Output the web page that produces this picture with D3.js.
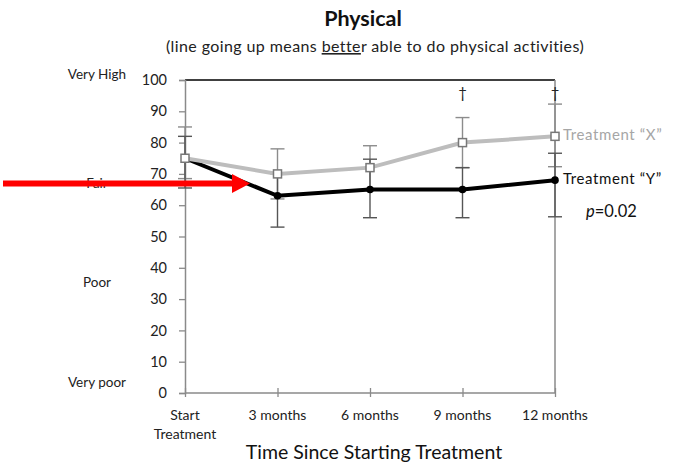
<!DOCTYPE html>
<html>
<head>
<meta charset="utf-8">
<script src="https://cdn.jsdelivr.net/npm/d3@7"></script>
<style>
  html, body { margin: 0; padding: 0; background: #fff; }
  svg { display: block; font-family: Lato, "Open Sans", sans-serif; }
</style>
</head>
<body>
<svg id="chart" width="692" height="469"></svg>
<script>
// Time points and their (two-line) labels
const timepoints = ["Start", "3 months", "6 months", "9 months", "12 months"];
const timeLabels = [["Start", "Treatment"], ["3 months"], ["6 months"], ["9 months"], ["12 months"]];

// Mean physical scores per treatment
const treatmentX = [75, 70, 72, 80, 82];
const treatmentY = [75, 63, 65, 65, 68];

// Error bar bounds (low / high) per treatment
const treatmentXLow  = [68.5, 62, 65, 72, 72.3];
const treatmentXHigh = [85, 78, 79, 88, 92.3];
const treatmentYLow  = [65.5, 53, 56, 56, 56.3];
const treatmentYHigh = [82, 70, 74.7, 72, 76.6];

// Y axis ticks and the descriptive bands beside them
const yTicks = [0, 10, 20, 30, 40, 50, 60, 70, 80, 90, 100];
const bandLabels = ["Very High", "Fair", "Poor", "Very poor"];
const bandValues = [101.5, 66.5, 35, 3];

// Time points flagged as significant
const daggerPoints = ["9 months", "12 months"];

const svg = d3.select("#chart");
const plotLeft = 185, plotRight = 555, plotTop = 80, plotBottom = 393;

const x = d3.scalePoint().domain(timepoints).range([plotLeft, plotRight]);
const y = d3.scaleLinear().domain([0, 100]).range([plotBottom, plotTop]);

// Plot frame
svg.append("line").attr("x1", plotLeft).attr("x2", plotRight).attr("y1", plotTop).attr("y2", plotTop)
  .attr("stroke", "#000").attr("stroke-width", 1.5);
svg.append("line").attr("x1", plotRight).attr("x2", plotRight).attr("y1", plotTop).attr("y2", plotBottom)
  .attr("stroke", "#8a8a8a").attr("stroke-width", 1.5);

// Y axis
const yAxis = svg.append("g").attr("transform", `translate(${plotLeft},0)`)
  .call(d3.axisLeft(y).tickValues(yTicks).tickSize(6).tickPadding(12));
yAxis.select(".domain").attr("stroke", "#8a8a8a").attr("stroke-width", 1.5);
yAxis.selectAll(".tick line").attr("stroke", "#8a8a8a").attr("stroke-width", 1.3);
yAxis.selectAll(".tick text").attr("font-size", 14.5).attr("fill", "#222")
  .attr("font-family", "Lato, sans-serif");

// X axis
const xAxis = svg.append("g").attr("transform", `translate(0,${plotBottom})`)
  .call(d3.axisBottom(x).tickSize(6).tickFormat(""));
xAxis.select(".domain").attr("stroke", "#8a8a8a").attr("stroke-width", 1.5)
  .attr("d", `M${plotLeft},0H${plotRight}`);
xAxis.selectAll(".tick line").attr("stroke", "#8a8a8a").attr("stroke-width", 1.3)
  .attr("y1", -5).attr("y2", 4);

// X tick labels
timepoints.forEach((t, i) => {
  const txt = svg.append("text").attr("x", x(t)).attr("y", 420)
    .attr("text-anchor", "middle").attr("font-size", 14).attr("fill", "#222");
  timeLabels[i].forEach((line, j) => {
    txt.append("tspan").attr("x", x(t)).attr("dy", j === 0 ? 0 : 19).text(line);
  });
});

// Band labels left of the axis
bandLabels.forEach((lab, i) => {
  svg.append("text").attr("x", 97).attr("y", y(bandValues[i]))
    .attr("text-anchor", "middle").attr("dominant-baseline", "middle")
    .attr("font-size", 13.5).attr("fill", "#222").text(lab);
});

// Error bars
function errorBars(low, high, color) {
  const g = svg.append("g").attr("stroke", color).attr("stroke-width", 1.4);
  timepoints.forEach((t, i) => {
    g.append("line").attr("x1", x(t)).attr("x2", x(t)).attr("y1", y(low[i])).attr("y2", y(high[i]));
    [low[i], high[i]].forEach(v => {
      g.append("line").attr("x1", x(t) - 7).attr("x2", x(t) + 7).attr("y1", y(v)).attr("y2", y(v));
    });
  });
}
errorBars(treatmentXLow, treatmentXHigh, "#8c8c8c");
errorBars(treatmentYLow, treatmentYHigh, "#555");

const line = d3.line().x((d, i) => x(timepoints[i])).y(d => y(d));

// Treatment Y (black, filled circles)
svg.append("path").datum(treatmentY).attr("d", line)
  .attr("fill", "none").attr("stroke", "#000").attr("stroke-width", 4);
svg.selectAll(".dot").data(treatmentY).enter().append("circle")
  .attr("cx", (d, i) => x(timepoints[i])).attr("cy", d => y(d)).attr("r", 3.8)
  .attr("fill", "#000");

// Treatment X (gray, open squares)
svg.append("path").datum(treatmentX).attr("d", line)
  .attr("fill", "none").attr("stroke", "#bdbdbd").attr("stroke-width", 4);
svg.selectAll(".sq").data(treatmentX).enter().append("rect")
  .attr("x", (d, i) => x(timepoints[i]) - 4).attr("y", d => y(d) - 4)
  .attr("width", 8).attr("height", 8)
  .attr("fill", "#fff").attr("stroke", "#777").attr("stroke-width", 1.5);

// Significance daggers
daggerPoints.forEach(t => {
  svg.append("text").attr("x", x(t)).attr("y", y(95.5)).attr("dominant-baseline", "middle")
    .attr("text-anchor", "middle").attr("font-size", 15).attr("fill", "#222").text("\u2020");
});

// Series labels
svg.append("text").attr("x", 563).attr("y", y(treatmentX[4])).attr("dominant-baseline", "middle")
  .attr("font-size", 15).attr("letter-spacing", 0.6).attr("fill", "#a6a6a6").text("Treatment \u201cX\u201d");
svg.append("text").attr("x", 563).attr("y", y(treatmentY[4])).attr("dominant-baseline", "middle")
  .attr("font-size", 15).attr("letter-spacing", 0.6).attr("fill", "#111").text("Treatment \u201cY\u201d");
const p = svg.append("text").attr("x", 586).attr("y", 213).attr("dominant-baseline", "middle")
  .attr("font-size", 16.5).attr("fill", "#111");
p.append("tspan").attr("font-style", "italic").text("p");
p.append("tspan").text("=0.02");

// Titles
svg.append("text").attr("x", 363).attr("y", 26).attr("text-anchor", "middle")
  .attr("font-size", 21.5).attr("font-weight", "bold").attr("fill", "#111").text("Physical");
const sub = svg.append("text").attr("x", 375).attr("y", 52).attr("text-anchor", "middle")
  .attr("font-size", 16).attr("letter-spacing", 0.4).attr("fill", "#222");
sub.append("tspan").text("(line going up means ");
sub.append("tspan").attr("text-decoration", "underline").text("bette");
sub.append("tspan").text("r able to do physical activities)");

svg.append("text").attr("x", 374).attr("y", 459).attr("text-anchor", "middle")
  .attr("font-size", 19.5).attr("fill", "#111").text("Time Since Starting Treatment");

// Red pointer arrow
svg.append("rect").attr("x", 3).attr("y", 180.5).attr("width", 231).attr("height", 6).attr("fill", "#f00");
svg.append("path").attr("d", "M232,174 L250,183.5 L232,193 Z").attr("fill", "#f00");
</script>
</body>
</html>
